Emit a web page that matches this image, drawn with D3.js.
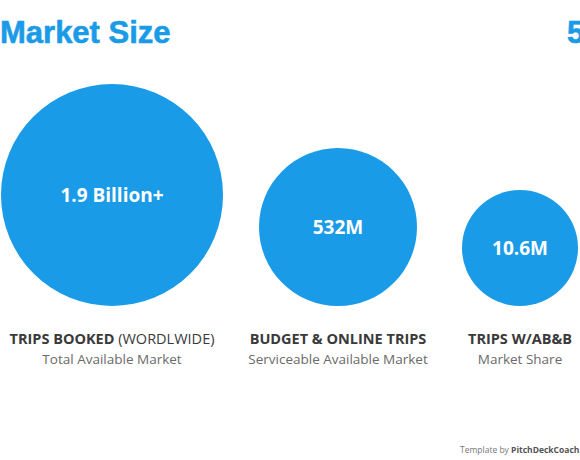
<!DOCTYPE html>
<html><head><meta charset="utf-8">
<script src="https://cdn.jsdelivr.net/npm/d3@7"></script>
<style>body{margin:0;background:#fff}</style>
</head><body><div id="chart"></div>
<script>
const values = [1.9e9, 532e6, 10.6e6];
const valueLabels = ['1.9 Billion+', '532M', '10.6M'];
const titles = ['TRIPS BOOKED', 'BUDGET & ONLINE TRIPS', 'TRIPS W/AB&B'];
const titleExtras = [' (WORDLWIDE)', '', ''];
const subtitles = ['Total Available Market', 'Serviceable Available Market', 'Market Share'];

const W = 580, H = 460, blue = '#1a9be8', baseY = 306;
const svg = d3.select('#chart').append('svg').attr('width', W).attr('height', H);

const r = d3.scaleLinear().domain([10.6e6, 532e6, 1.9e9]).range([58, 79, 111]);
const centers = [112, 338, 520];

svg.append('text').attr('x', 0).attr('y', 43).text('Market Size')
  .attr('font-family', 'Liberation Sans, Arial').attr('font-weight', 'bold')
  .attr('font-size', 31).attr('fill', blue).attr('stroke', blue).attr('stroke-width', 0.6);
svg.append('text').attr('x', 567).attr('y', 43).text('5')
  .attr('font-family', 'Liberation Sans, Arial').attr('font-weight', 'bold')
  .attr('font-size', 31).attr('fill', blue).attr('stroke', blue).attr('stroke-width', 0.6);

const g = svg.selectAll('g.c').data(values).enter().append('g')
  .attr('transform', (d, i) => `translate(${centers[i]},0)`);

g.append('circle').attr('cy', d => baseY - r(d)).attr('r', d => r(d)).attr('fill', blue);
g.append('text').attr('y', d => baseY - r(d) + 7).attr('text-anchor', 'middle')
  .attr('font-family', 'Open Sans, sans-serif').attr('font-weight', 'bold')
  .attr('font-size', 19).attr('fill', '#fff').text((d, i) => valueLabels[i]);

const t = g.append('text').attr('y', 344).attr('text-anchor', 'middle')
  .attr('font-family', 'Open Sans, sans-serif').attr('font-size', 14.5).attr('fill', '#3a3a3a');
t.append('tspan').attr('font-weight', 'bold').text((d, i) => titles[i]);
t.append('tspan').text((d, i) => titleExtras[i]);

g.append('text').attr('y', 364).attr('text-anchor', 'middle')
  .attr('font-family', 'Open Sans, sans-serif').attr('font-size', 13.5).attr('fill', '#6a6a6a')
  .text((d, i) => subtitles[i]);

const f = svg.append('text').attr('x', 460).attr('y', 453)
  .attr('font-family', 'Open Sans, sans-serif').attr('font-size', 8.5).attr('fill', '#777');
f.append('tspan').text('Template by ');
f.append('tspan').attr('font-weight', 'bold').attr('fill', '#555').text('PitchDeckCoach.com');
</script></body></html>
